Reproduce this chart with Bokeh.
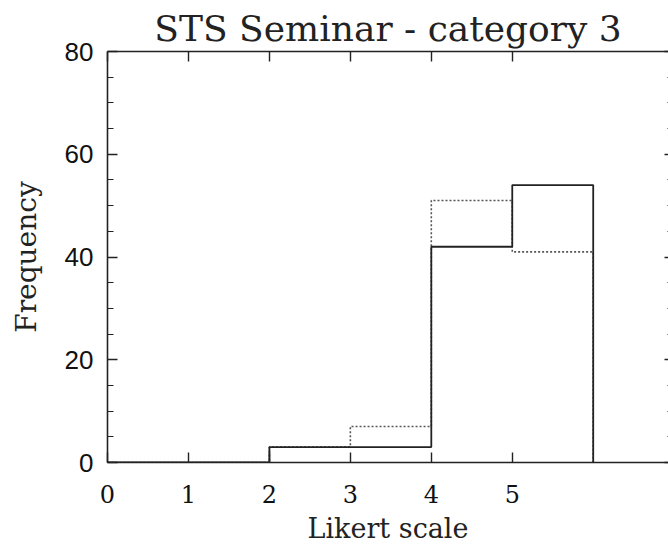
from bokeh.plotting import figure
from bokeh.models import Range1d, LinearAxis, FixedTicker, CustomLabelingPolicy
from bokeh.embed import file_html
from bokeh.resources import INLINE

# Data: histogram bin edges (Likert scale) and counts for two series
bin_edges = [0, 1, 2, 3, 4, 5, 6]
counts_solid = [0, 0, 3, 3, 42, 54]
counts_dotted = [0, 0, 3, 7, 51, 41]
x_tick_values = [0, 1, 2, 3, 4, 5]
x_tick_labels = ["0", "1", "2", "3", "4", "5"]
y_tick_values = [0, 20, 40, 60, 80]
y_minor_values = [5 * i for i in range(17)]

title_text = "STS Seminar - category 3"
x_label = "Likert scale"
y_label = "Frequency"

SERIF = "DejaVu Serif"
SANS = "Liberation Sans"
AX = "#222222"
HIDE_LABELS = "for (const i of Array.from(indices)) { indices.unset(i) } return indices"

p = figure(width=668, height=546, output_backend="svg", toolbar_location=None,
           x_range=Range1d(0, 6.93), y_range=Range1d(0, 80),
           min_border_left=107, min_border_right=0, min_border_top=51,
           min_border_bottom=83, x_axis_location=None, y_axis_location=None)
p.outline_line_color = None
p.grid.visible = False
p.background_fill_color = "white"
p.border_fill_color = "white"

p.title.text = title_text
p.title.align = "center"
p.title.vertical_align = "top"
p.title.text_font = SERIF
p.title.text_font_style = "normal"
p.title.text_font_size = "36px"
p.title.text_color = "#222222"
p.title.offset = 0
p.title.standoff = 2

def style_axis(ax):
    ax.axis_line_color = AX
    ax.axis_line_width = 1.6
    ax.major_tick_line_color = AX
    ax.major_tick_line_width = 1.4
    ax.minor_tick_line_color = AX
    ax.minor_tick_line_width = 1.2
    ax.major_tick_out = 0
    ax.minor_tick_out = 0

# bottom axis
xb = LinearAxis(ticker=FixedTicker(ticks=x_tick_values),
                major_label_overrides={v: s for v, s in zip(x_tick_values, x_tick_labels)})
style_axis(xb)
xb.major_tick_in = 10
xb.minor_tick_in = 0
xb.major_label_text_font = SERIF
xb.major_label_text_font_size = "24px"
xb.major_label_text_color = "#111111"
xb.major_label_standoff = 22
xb.axis_label = x_label
xb.axis_label_text_font = SERIF
xb.axis_label_text_font_style = "normal"
xb.axis_label_text_font_size = "27px"
xb.axis_label_text_color = "#222222"
xb.axis_label_standoff = 7
p.add_layout(xb, "below")

# top axis (ticks only)
xt = LinearAxis(ticker=FixedTicker(ticks=x_tick_values),
                major_label_policy=CustomLabelingPolicy(code=HIDE_LABELS))
style_axis(xt)
xt.major_tick_in = 10
xt.major_label_text_font_size = "0px"
xt.major_label_standoff = 0
p.add_layout(xt, "above")

# left axis
yl = LinearAxis(ticker=FixedTicker(ticks=y_tick_values, minor_ticks=y_minor_values))
style_axis(yl)
yl.major_tick_in = 10
yl.minor_tick_in = 6
yl.major_label_text_font = SANS
yl.major_label_text_font_size = "26px"
yl.major_label_text_color = "#111111"
yl.major_label_standoff = 14
yl.axis_label = y_label
yl.axis_label_text_font = SERIF
yl.axis_label_text_font_style = "normal"
yl.axis_label_text_font_size = "28px"
yl.axis_label_text_color = "#222222"
yl.axis_label_standoff = 19
p.add_layout(yl, "left")

# right axis (ticks only; its line lies just beyond the visible area)
yr = LinearAxis(ticker=FixedTicker(ticks=y_tick_values, minor_ticks=y_minor_values),
                major_label_policy=CustomLabelingPolicy(code=HIDE_LABELS))
style_axis(yr)
yr.axis_line_alpha = 0
yr.major_tick_in = 4
yr.minor_tick_in = 1
yr.major_label_text_font_size = "0px"
yr.major_label_standoff = 0
p.add_layout(yr, "right")

# histograms as step outlines
p.step(x=bin_edges, y=counts_dotted + [0], mode="after",
       line_color="#555555", line_width=1.6, line_dash="2 2")
p.step(x=bin_edges, y=counts_solid + [0], mode="after",
       line_color="#222222", line_width=1.8)

open("out.html", "w").write(file_html(p, INLINE))
